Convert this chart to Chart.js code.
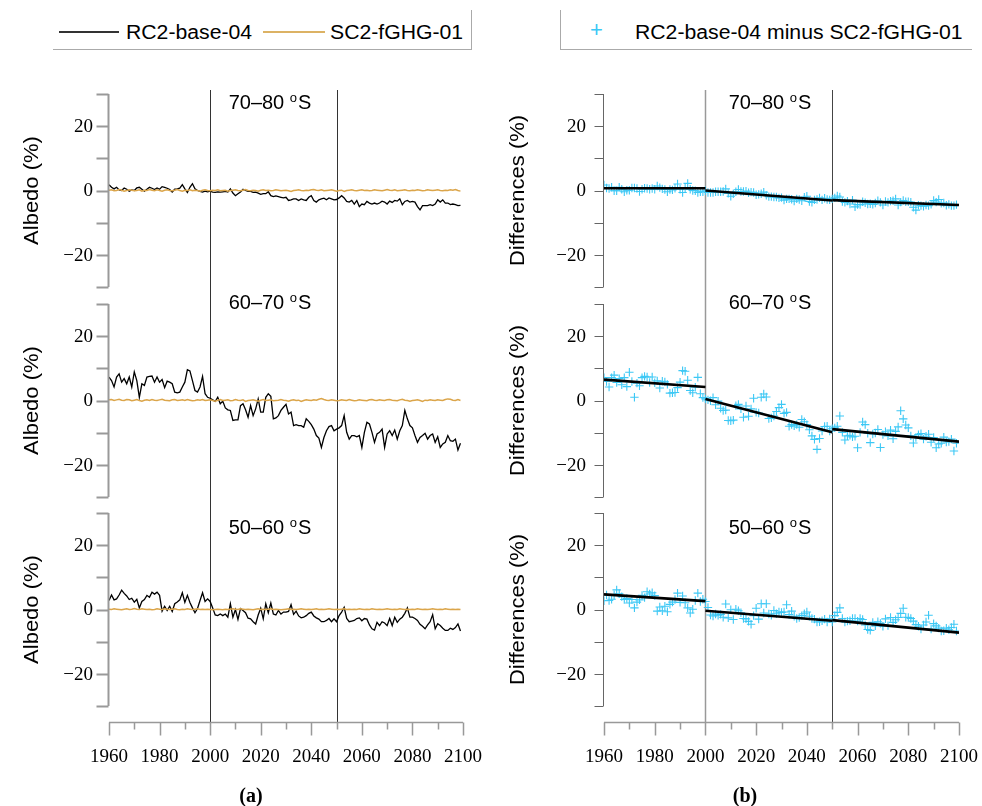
<!DOCTYPE html>
<html>
<head>
<meta charset="utf-8">
<script src="https://cdn.jsdelivr.net/npm/chart.js@4.4.1/dist/chart.umd.min.js"></script>
<style>
  body { margin: 0; background: #fff; width: 982px; height: 806px; position: relative; overflow: hidden; font-family: "Liberation Sans", Arial, sans-serif; }
  canvas { position: absolute; }
  .legend { position: absolute; top: 10px; height: 40px; box-sizing: border-box; }
  .legend span { position: absolute; font-size: 20px; line-height: 20px; top: 12px; color: #000; white-space: nowrap; transform: scaleX(1.06); transform-origin: left center; }
  .legend i { position: absolute; height: 2px; top: 21px; }
</style>
</head>
<body>

<div class="legend" style="left:53px;width:419px;border-right:1px solid #aaa;border-bottom:1px solid #aaa;">
  <i style="left:6px;width:60px;background:#333;"></i>
  <span style="left:73px;">RC2-base-04</span>
  <i style="left:210px;width:62px;background:#dcb264;"></i>
  <span style="left:277px;">SC2-fGHG-01</span>
</div>
<div class="legend" style="left:560px;width:412px;border-left:1px solid #aaa;border-bottom:1px solid #aaa;">
  <span style="left:29px;top:10px;color:#3cc8f5;font-size:22px;transform:none;">+</span>
  <span style="left:74px;">RC2-base-04 minus SC2-fGHG-01</span>
</div>

<canvas id="a0" width="491" height="210" style="left:0;top:84px"></canvas>
<canvas id="a1" width="491" height="209" style="left:0;top:294px"></canvas>
<canvas id="a2" width="491" height="303" style="left:0;top:503px"></canvas>
<canvas id="b0" width="491" height="210" style="left:491px;top:84px"></canvas>
<canvas id="b1" width="491" height="209" style="left:491px;top:294px"></canvas>
<canvas id="b2" width="491" height="303" style="left:491px;top:503px"></canvas>

<script>
// annual values 1960-2099
var years = Array.from({ length: 140 }, function (_, i) { return 1960 + i; });

var regions = ['70\u201380 ', '60\u201370 ', '50\u201360 '];

// RC2-base-04 albedo change (%)
var base7080 = [
  1.8, 1.0, 0.5, 1.0, 0.2, 0.0, 0.8, 0.4, -0.2, 0.2,
  0.0, 0.8, 1.0, 0.4, -0.2, 0.4, 1.0, 0.7, 0.3, 0.8,
  0.4, 1.2, 1.0, 0.7, 0.3, -0.5, 0.4, 0.5, 0.7, 1.8,
  0.5, -0.6, 1.0, 2.1, 0.5, 0.0, -0.3, -0.5, -0.2, -0.4,
  -0.2, -0.5, -0.6, -0.4, -0.5, -0.4, -0.3, -0.5, 0.5, -0.8,
  -1.6, -1.0, -0.5, 0.4, 0.0, -0.3, -0.3, -0.6, -0.5, -0.8,
  -1.2, -1.0, -1.0, -0.4, -1.6, -1.9, -1.7, -1.9, -2.1, -2.3,
  -2.1, -3.1, -2.9, -2.6, -2.6, -3.1, -2.6, -2.9, -3.1, -2.1,
  -1.6, -3.1, -3.6, -2.9, -2.6, -2.4, -2.9, -2.3, -2.6, -2.9,
  -2.8, -2.3, -1.6, -2.3, -3.4, -3.6, -3.1, -4.2, -3.1, -5.0,
  -4.2, -4.4, -3.4, -3.9, -4.2, -3.9, -4.2, -3.9, -3.3, -3.6,
  -4.2, -3.3, -3.7, -3.1, -3.3, -2.6, -4.4, -3.4, -3.1, -3.6,
  -3.4, -3.6, -5.0, -6.0, -4.7, -4.7, -4.7, -4.4, -4.7, -4.2,
  -2.9, -3.6, -2.9, -3.9, -3.9, -4.4, -4.2, -4.4, -4.7, -4.6
];
var base6070 = [
  7.3, 6.2, 4.2, 7.3, 8.3, 5.7, 6.8, 5.2, 7.3, 4.2,
  8.9, 6.2, 1.0, 5.2, 4.7, 7.3, 7.5, 7.6, 5.7, 7.3,
  5.7, 6.5, 4.0, 6.0, 5.7, 5.2, 2.6, 2.4, 2.6, 4.2,
  5.7, 9.6, 9.2, 6.2, 3.1, 2.6, 4.2, 7.5, 2.1, 1.0,
  0.7, 0.2, -0.3, 1.0, -1.0, -0.2, -2.3, -2.9, -3.1, -6.2,
  -6.0, -6.0, -1.6, -1.0, -2.9, -5.2, -1.6, -4.7, -2.6, 0.5,
  -3.6, -3.6, 1.0, 2.1, 1.3, -5.7, -5.4, -4.7, -3.1, -2.1,
  -1.2, -4.2, -3.6, -7.8, -7.5, -7.8, -7.8, -8.3, -5.7, -6.5,
  -7.5, -8.9, -10.9, -11.7, -14.6, -11.5, -9.4, -8.1, -7.8, -9.4,
  -8.9, -8.5, -7.8, -4.7, -9.9, -12.0, -10.9, -10.9, -11.3, -10.9,
  -14.6, -9.9, -6.8, -7.3, -9.9, -13.0, -10.4, -9.9, -8.9, -14.6,
  -10.4, -9.4, -10.9, -9.2, -12.0, -9.4, -7.8, -3.1, -5.7, -7.8,
  -8.5, -10.9, -13.0, -11.5, -10.9, -10.2, -12.0, -10.9, -10.4, -13.0,
  -11.3, -14.6, -13.5, -13.0, -10.9, -12.5, -12.7, -12.0, -15.4, -13.3
];
var base5060 = [
  2.8, 4.5, 3.0, 3.3, 4.5, 6.0, 5.0, 4.2, 3.1, 3.5,
  2.3, 3.2, 0.5, 2.5, 3.1, 4.4, 3.8, 5.4, 4.8, 5.4,
  4.4, -0.5, 1.0, -0.3, 1.0, -0.6, 1.8, 2.3, 3.0, 5.2,
  2.2, 4.4, 2.2, 0.5, -1.0, 0.3, 2.8, 5.2, 2.5, 3.3,
  2.5, 0.5, -1.7, -1.9, -1.4, -1.9, -1.4, -2.4, 1.8, -2.4,
  0.0, -3.1, 0.3, -0.3, -1.0, -2.7, -2.9, -3.8, -4.5, -1.7,
  0.4, -2.9, 1.8, -1.0, 2.0, -1.4, -1.7, -0.3, -1.4, -0.8,
  -0.8, -0.6, 1.5, -1.5, -0.5, -2.0, -2.6, -2.4, -1.9, -1.2,
  -0.8, -2.0, -2.6, -3.0, -3.8, -3.8, -3.4, -2.8, -3.8, -2.9,
  -3.8, -1.9, -0.8, 0.7, -2.8, -3.8, -3.6, -3.4, -2.8, -2.6,
  -3.5, -2.8, -3.0, -4.8, -6.0, -6.4, -4.0, -5.0, -3.8, -4.2,
  -5.0, -2.8, -5.0, -2.4, -4.0, -3.0, -2.4, -1.2, 0.5, -2.4,
  -2.4, -2.8, -3.4, -4.6, -5.2, -6.0, -4.8, -3.8, -1.6, -6.0,
  -4.4, -5.0, -5.8, -6.5, -6.5, -5.8, -6.2, -5.6, -4.5, -6.7
];

// SC2-fGHG-01 albedo change (%)
var fghg7080 = [
  0.1, 0.2, -0.1, 0.0, 0.3, 0.1, -0.2, 0.0, 0.2, 0.1,
  -0.1, 0.0, 0.2, -0.2, 0.1, 0.0, 0.3, 0.1, -0.1, 0.2,
  0.0, -0.2, 0.1, 0.2, 0.0, -0.1, 0.1, 0.3, 0.0, -0.2,
  0.1, 0.0, 0.2, -0.1, 0.1, 0.0, -0.2, 0.1, 0.2, 0.0,
  -0.1, 0.1, 0.0, 0.2, -0.1, 0.0, 0.1, -0.2, 0.0, 0.1,
  0.2, 0.0, -0.1, 0.1, 0.3, 0.0, -0.1, 0.1, 0.0, -0.2,
  0.1, 0.2, 0.0, 0.1, -0.1, 0.0, 0.2, 0.1, -0.1, 0.0,
  0.1, -0.1, -0.3, 0.0, 0.1, 0.2, 0.0, -0.1, 0.1, 0.0,
  0.2, 0.3, 0.1, 0.0, 0.2, -0.1, 0.0, 0.1, 0.2, 0.0,
  -0.2, 0.0, 0.1, -0.3, 0.0, 0.1, 0.2, 0.0, -0.1, 0.1,
  0.2, 0.0, 0.1, -0.1, 0.0, 0.2, 0.1, 0.0, -0.1, 0.1,
  0.3, 0.1, 0.0, 0.2, -0.1, 0.0, 0.1, 0.2, 0.0, -0.1,
  0.1, 0.0, 0.2, 0.1, -0.1, 0.0, 0.2, 0.1, 0.0, 0.1,
  0.2, 0.0, -0.1, 0.1, 0.0, 0.2, 0.1, 0.3, 0.0, -0.2
];
var fghg6070 = [
  0.2, 0.3, 0.0, 0.2, 0.4, 0.1, 0.0, 0.3, 0.2, -0.1,
  0.1, 0.3, 0.0, -0.2, 0.1, 0.2, 0.0, 0.3, 0.1, 0.0,
  0.2, 0.4, 0.1, 0.0, -0.1, 0.2, 0.3, 0.0, 0.1, 0.2,
  0.0, 0.3, 0.1, -0.1, 0.0, 0.2, 0.1, 0.3, 0.0, 0.1,
  0.2, 0.0, -0.2, 0.1, 0.3, 0.0, 0.1, 0.2, -0.1, 0.0,
  0.3, 0.1, 0.0, 0.2, -0.3, 0.0, 0.1, 0.2, 0.0, -0.2,
  0.1, 0.3, 0.0, 0.1, 0.2, -0.1, 0.0, 0.1, 0.3, 0.1,
  0.0, -0.2, 0.1, 0.2, 0.0, 0.1, -0.3, 0.0, 0.2, 0.1,
  0.0, 0.2, 0.1, 0.4, 0.6, 0.3, 0.1, 0.0, 0.2, 0.1,
  -0.1, 0.0, 0.2, 0.1, 0.0, 0.3, 0.1, -0.1, 0.0, 0.2,
  0.1, 0.0, -0.1, 0.2, 0.3, 0.1, 0.0, 0.2, 0.1, 0.0,
  0.2, 0.3, 0.1, 0.0, -0.1, 0.2, 0.4, 0.1, 0.0, -0.2,
  0.0, 0.1, 0.2, 0.0, -0.3, 0.1, 0.0, 0.2, 0.1, 0.0,
  0.2, 0.1, 0.0, 0.3, 0.5, 0.4, 0.1, 0.0, 0.3, 0.0
];
var fghg5060 = [
  0.1, 0.0, 0.2, 0.1, 0.0, -0.1, 0.1, 0.2, 0.0, 0.1,
  0.3, 0.1, 0.0, 0.2, 0.1, 0.0, 0.1, -0.1, 0.0, 0.2,
  0.1, 0.0, 0.2, 0.1, 0.0, 0.1, 0.2, 0.0, -0.1, 0.1,
  0.0, 0.2, 0.1, 0.0, 0.1, 0.2, 0.0, 0.1, 0.0, 0.1,
  0.0, -0.1, 0.0, 0.1, 0.0, -0.1, 0.1, 0.0, 0.1, 0.2,
  0.1, 0.0, 0.2, 0.1, 0.0, 0.1, 0.0, -0.1, 0.1, 0.2,
  0.0, 0.1, 0.0, 0.1, 0.2, 0.0, 0.1, 0.0, -0.1, 0.0,
  0.1, 0.2, 0.0, 0.1, 0.0, 0.1, 0.2, 0.1, 0.0, 0.1,
  0.0, 0.1, 0.2, 0.0, 0.1, 0.0, 0.1, 0.2, 0.1, 0.0,
  0.1, 0.0, 0.1, 0.2, 0.0, 0.1, 0.0, 0.1, 0.0, 0.2,
  0.1, 0.0, 0.1, 0.0, 0.2, 0.1, 0.0, 0.1, 0.0, 0.1,
  0.2, 0.1, 0.0, 0.1, 0.0, 0.2, 0.1, 0.0, 0.1, 0.0,
  0.1, 0.0, 0.2, 0.1, 0.0, 0.1, 0.0, 0.1, 0.2, 0.1,
  0.0, 0.1, 0.0, 0.2, 0.1, 0.0, 0.1, 0.0, 0.1, 0.0
];

// trend segments of the differences: start/end years and values
var trendYears = [[1960, 2000], [2000, 2050], [2050, 2100]];
var trend7080 = [[0.7, 0.7], [0.0, -3.1], [-3.0, -4.5]];
var trend6070 = [[6.5, 4.2], [0.5, -9.9], [-8.9, -12.8]];
var trend5060 = [[4.7, 2.6], [-0.4, -3.5], [-3.3, -7.2]];

var yTicks = [-30, -20, -10, 0, 10, 20, 30];
var yLabels = [-20, 0, 20];
var xTicks = [1960, 1970, 1980, 1990, 2000, 2010, 2020, 2030, 2040, 2050, 2060, 2070, 2080, 2090, 2100];
var xLabels = [1960, 1980, 2000, 2020, 2040, 2060, 2080, 2100];
var splitYears = [2000, 2050];

var black = '#000000', orange = '#dba54a', cyan = '#3cc8f5';

function pts(vals) {
  return years.map(function (yr, i) { return { x: yr, y: vals[i] }; });
}

var panelAxes = {
  id: 'panelAxes',
  beforeDatasetsDraw: function (chart, args, o) {
    var ctx = chart.ctx, xs = chart.scales.x;
    ctx.save();
    splitYears.forEach(function (yr, i) {
      var px = Math.round(xs.getPixelForValue(yr)) + 0.5;
      ctx.strokeStyle = o.splitColors[i];
      ctx.lineWidth = o.splitWidths[i];
      ctx.beginPath();
      ctx.moveTo(px, o.lineTop);
      ctx.lineTo(px, o.lineBottom);
      ctx.stroke();
    });
    ctx.restore();
  },
  afterDraw: function (chart, args, o) {
    var ctx = chart.ctx, xs = chart.scales.x, ys = chart.scales.y, area = chart.chartArea;
    ctx.save();
    // y axis
    var ax = Math.round(area.left) - 0.5;
    ctx.strokeStyle = o.axisColor;
    ctx.lineWidth = o.axisWidth;
    ctx.beginPath();
    ctx.moveTo(ax, ys.getPixelForValue(30));
    ctx.lineTo(ax, ys.getPixelForValue(-30));
    yTicks.forEach(function (v) {
      var py = Math.round(ys.getPixelForValue(v)) + 0.5;
      ctx.moveTo(ax, py);
      ctx.lineTo(ax - o.tickLen, py);
    });
    ctx.stroke();
    ctx.fillStyle = '#000';
    ctx.font = '19px "Liberation Serif", "Times New Roman", serif';
    ctx.textAlign = 'right';
    ctx.textBaseline = 'middle';
    yLabels.forEach(function (v) {
      ctx.fillText(v < 0 ? '\u2212' + Math.abs(v) : String(v), o.labelRight, ys.getPixelForValue(v) + 1);
    });
    // y title
    ctx.save();
    ctx.translate(o.titleX, (area.top + area.bottom) / 2);
    ctx.rotate(-Math.PI / 2);
    ctx.scale(1.1, 1);
    ctx.textAlign = 'center';
    ctx.font = '20px "Liberation Sans", Arial, sans-serif';
    ctx.fillText(o.yTitle, 0, 0);
    ctx.restore();
    // panel heading with superscript degree "o"
    ctx.textBaseline = 'alphabetic';
    ctx.textAlign = 'left';
    var big = '20px "Liberation Sans", Arial, sans-serif', small = '13px "Liberation Sans", Arial, sans-serif';
    ctx.font = big;
    var w1 = ctx.measureText(o.head).width, w3 = ctx.measureText('S').width;
    ctx.font = small;
    var w2 = ctx.measureText('o').width + 1;
    var hx = o.headX - (w1 + w2 + w3) / 2;
    ctx.font = big;
    ctx.fillText(o.head, hx, o.headY);
    ctx.font = small;
    ctx.fillText('o', hx + w1, o.headY - 7);
    ctx.font = big;
    ctx.fillText('S', hx + w1 + w2, o.headY);
    // x axis on the bottom panel
    if (o.xAxis) {
      var ay = o.xAxisY + 0.5;
      ctx.strokeStyle = '#999';
      ctx.lineWidth = 1.5;
      ctx.beginPath();
      ctx.moveTo(xs.getPixelForValue(1960), ay);
      ctx.lineTo(xs.getPixelForValue(2100), ay);
      xTicks.forEach(function (yr) {
        var px = Math.round(xs.getPixelForValue(yr)) + 0.5;
        ctx.moveTo(px, ay);
        ctx.lineTo(px, ay + (xLabels.indexOf(yr) >= 0 ? 13 : 7));
      });
      ctx.stroke();
      ctx.fillStyle = '#000';
      ctx.font = '19px "Liberation Serif", "Times New Roman", serif';
      ctx.textAlign = 'center';
      ctx.textBaseline = 'middle';
      xLabels.forEach(function (yr) {
        ctx.fillText(String(yr), xs.getPixelForValue(yr), o.xLabelY);
      });
      ctx.font = 'bold 20px "Liberation Serif", "Times New Roman", serif';
      ctx.fillText(o.letter, o.letterX, o.letterY);
    }
    ctx.restore();
  }
};
Chart.register(panelAxes);

var rows = [
  { top: 84, h: 210, pad: { top: 10, bottom: 7 }, lineTop: 6, lineBottom: 210, headY: 25 },
  { top: 294, h: 209, pad: { top: 10, bottom: 6 }, lineTop: 0, lineBottom: 209, headY: 15 },
  { top: 503, h: 303, pad: { top: 10, bottom: 100 }, lineTop: 0, lineBottom: 219, headY: 31 }
];
var cols = [
  { pad: { left: 109, right: 28 }, splitColors: ['#333', '#333'], splitWidths: [1, 1], axisColor: '#999', axisWidth: 2,
    tickLen: 12, labelRight: 93, titleX: 32, headX: 270, yTitle: 'Albedo (%)', letter: '(a)', letterX: 251 },
  { pad: { left: 113, right: 23 }, splitColors: ['#999', '#444'], splitWidths: [1.5, 1], axisColor: '#666', axisWidth: 1,
    tickLen: 9, labelRight: 95, titleX: 27, headX: 279, yTitle: 'Differences (%)', letter: '(b)', letterX: 254 }
];

var baseSets = [base7080, base6070, base5060];
var fghgSets = [fghg7080, fghg6070, fghg5060];
var trendSets = [trend7080, trend6070, trend5060];

function lineSet(label, vals, color, width, order) {
  return { label: label, data: pts(vals), borderColor: color, borderWidth: width, pointRadius: 0, tension: 0, fill: false, order: order };
}

function makePanel(id, col, row, ri, datasets) {
  var axes = Object.assign({}, col, {
    lineTop: row.lineTop, lineBottom: row.lineBottom, headY: row.headY, head: regions[ri],
    xAxis: ri === 2, xAxisY: 219, xLabelY: 254, letterY: 294
  });
  new Chart(document.getElementById(id), {
    type: 'line',
    data: { datasets: datasets },
    options: {
      responsive: false,
      animation: false,
      events: [],
      layout: { padding: { left: col.pad.left, right: col.pad.right, top: row.pad.top, bottom: row.pad.bottom } },
      scales: {
        x: { type: 'linear', min: 1960, max: 2100, display: false },
        y: { min: -30, max: 30, display: false }
      },
      plugins: { legend: { display: false }, tooltip: { enabled: false }, panelAxes: axes }
    }
  });
}

rows.forEach(function (row, ri) {
  // (a) albedo of both runs
  makePanel('a' + ri, cols[0], row, ri, [
    lineSet('SC2-fGHG-01', fghgSets[ri], orange, 1.5, 0),
    lineSet('RC2-base-04', baseSets[ri], black, 1.3, 1)
  ]);
  // (b) difference with piecewise trends drawn on top
  var diff = baseSets[ri].map(function (v, i) { return v - fghgSets[ri][i]; });
  var sets = [{
    label: 'RC2-base-04 minus SC2-fGHG-01', data: pts(diff), showLine: false, order: 1,
    pointStyle: 'cross', pointRadius: 4.2, borderColor: cyan, backgroundColor: cyan, pointBorderWidth: 1.1
  }];
  trendYears.forEach(function (yrs, k) {
    sets.push({
      label: 'trend ' + k, order: 0,
      data: [{ x: yrs[0], y: trendSets[ri][k][0] }, { x: yrs[1], y: trendSets[ri][k][1] }],
      borderColor: black, borderWidth: 2.6, pointRadius: 0, tension: 0, fill: false
    });
  });
  makePanel('b' + ri, cols[1], row, ri, sets);
});
</script>
</body>
</html>
